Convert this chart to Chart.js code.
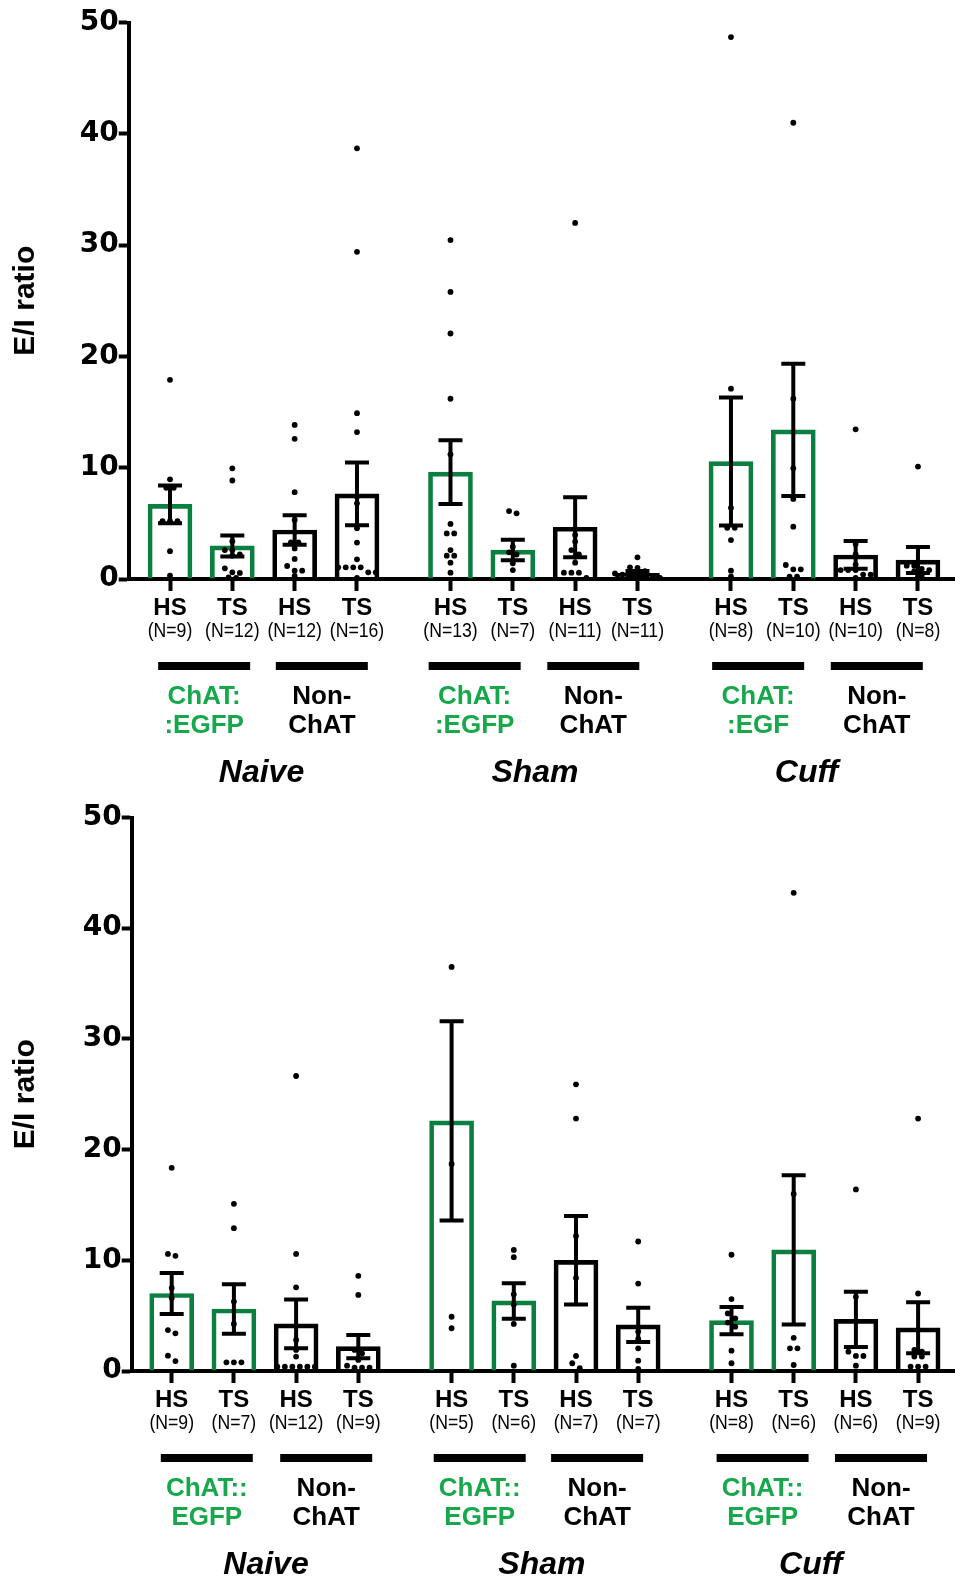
<!DOCTYPE html>
<html>
<head>
<meta charset="utf-8">
<script src="https://cdn.jsdelivr.net/npm/chart.js@4.4.1/dist/chart.umd.min.js"></script>
<style>
html, body { margin: 0; padding: 0; background: #fff; }
#wrap { position: relative; width: 955px; height: 1577px; overflow: hidden; }
canvas { position: absolute; left: 0; }
</style>
</head>
<body>
<div id="wrap">
  <canvas id="topChart" width="962" height="790" style="top:0px"></canvas>
  <canvas id="bottomChart" width="962" height="787" style="top:790px"></canvas>
</div>
<script>
// ---- data ----
var groups = ['Naive', 'Sham', 'Cuff'];
var subTypes = ['HS', 'TS'];
var yTicks = [0, 10, 20, 30, 40, 50];

// top panel
var topN = [9, 12, 12, 16, 13, 7, 11, 11, 8, 10, 10, 8];
var topMeans = [6.7, 2.97, 4.4, 7.65, 9.6, 2.6, 4.65, 0.5, 10.55, 13.4, 2.16, 1.7];
var topSem = [1.7, 0.95, 1.33, 2.83, 2.87, 0.92, 2.7, 0.22, 5.75, 5.95, 1.25, 1.17];
var topPoints = [
  [17.9, 8.96, 8.2, 8.2, 5.2, 5.2, 5.2, 2.5, 0.3],
  [9.95, 8.85, 3.4, 2.6, 2.6, 2.2, 2.1, 0.96, 0.6, 0.55, 0.15, 0.1],
  [13.85, 12.6, 7.8, 5.3, 3.3, 3.3, 2.75, 1.8, 1.17, 0.75, 0.75, 0.27],
  [38.7, 29.4, 14.9, 13.2, 7.4, 6.8, 4.56, 3.27, 1.77, 1.05, 1.05, 1.05, 1.05, 0.6, 0.6, 0.1],
  [30.46, 25.8, 22.06, 16.2, 11.2, 4.95, 4.1, 4.1, 2.6, 2.1, 2.1, 1.47, 0.57],
  [6.1, 5.9, 2.9, 2.4, 2.2, 1.41, 0.8],
  [32.0, 3.96, 3.36, 2.6, 2.2, 2.0, 1.47, 0.57, 0.57, 0.57, 0.1],
  [1.95, 1.05, 1.0, 0.7, 0.5, 0.4, 0.3, 0.3, 0.2, 0.1, 0.1],
  [48.7, 17.1, 6.4, 4.6, 4.6, 3.5, 0.75, 0.2],
  [41.0, 16.2, 9.95, 7.2, 4.7, 1.26, 0.87, 0.87, 0.2, 0.2],
  [13.45, 3.15, 2.2, 1.3, 0.8, 0.8, 0.8, 0.4, 0.4, 0.1],
  [10.1, 1.2, 1.2, 0.9, 0.8, 0.7, 0.3, 0.2]
];
var topCellLabels = [['ChAT:', ':EGFP'], ['Non-', 'ChAT'], ['ChAT:', ':EGFP'], ['Non-', 'ChAT'], ['ChAT:', ':EGF'], ['Non-', 'ChAT']];

// bottom panel
var bottomN = [9, 7, 12, 9, 5, 6, 7, 7, 8, 6, 6, 9];
var bottomMeans = [7.0, 5.6, 4.25, 2.2, 22.6, 6.33, 10.0, 4.16, 4.55, 10.94, 4.67, 3.9];
var bottomSem = [1.85, 2.23, 2.2, 1.05, 9.0, 1.6, 4.0, 1.55, 1.23, 6.75, 2.5, 2.3];
var bottomPoints = [
  [18.35, 10.58, 10.4, 7.5, 6.6, 3.7, 3.4, 1.38, 0.9],
  [15.1, 12.9, 6.27, 4.25, 0.78, 0.78, 0.78],
  [26.65, 10.58, 7.56, 2.8, 1.9, 1.3, 0.39, 0.39, 0.39, 0.39, 0.39, 0.39],
  [8.6, 6.87, 1.9, 1.6, 1.0, 0.48, 0.3, 0.3, 0.3],
  [36.5, 18.7, 4.9, 3.86],
  [10.94, 10.28, 6.93, 6.0, 4.25, 0.48],
  [25.9, 22.8, 12.2, 8.4, 1.36, 0.7, 0.25],
  [11.7, 7.9, 3.56, 2.9, 2.05, 0.93, 0.2],
  [10.5, 6.5, 5.2, 4.76, 4.37, 4.0, 1.84, 0.7],
  [43.2, 16.0, 3.0, 2.05, 2.05, 0.54],
  [16.4, 6.7, 1.75, 1.36, 1.36, 0.48],
  [22.8, 7.0, 1.9, 1.75, 1.3, 1.3, 0.4, 0.4, 0.4]
];
var bottomCellLabels = [['ChAT::', 'EGFP'], ['Non-', 'ChAT'], ['ChAT::', 'EGFP'], ['Non-', 'ChAT'], ['ChAT::', 'EGFP'], ['Non-', 'ChAT']];

// ---- styling ----
var BAR_GREEN = '#0b7f40';
var TEXT_GREEN = '#17a84c';

// 4 bars per group, half a slot between groups
var xPos = topMeans.map(function(m, i) { return i + 0.5 * Math.floor(i / 4); });

function barColor(i) { return (i % 4) < 2 ? BAR_GREEN : '#000'; }

// GraphPad-like spreading of dots that sit on the same level
function swarm(values, center, pxX, pxY) {
  var sorted = values.slice().sort(function(a, b) { return b - a; });
  var out = [];
  var i = 0;
  while (i < sorted.length) {
    var row = [sorted[i]];
    var j = i + 1;
    while (j < sorted.length && (sorted[i] - sorted[j]) * pxY < 5.5) { row.push(sorted[j]); j++; }
    row.forEach(function(v, k) {
      out.push({ x: center + (k - (row.length - 1) / 2) * 7.5 / pxX, y: v });
    });
    i = j;
  }
  return out;
}

function condensedText(ctx, text, x, y, sx) {
  ctx.save();
  ctx.translate(x, y);
  ctx.scale(sx, 1);
  ctx.fillText(text, 0, 0);
  ctx.restore();
}

function makeChart(panel) {
  var pxY = (panel.plotBottom - panel.plotTop) / 50;

  var dots = [];
  panel.points.forEach(function(vals, i) {
    dots = dots.concat(swarm(vals, xPos[i], panel.unitPx, pxY));
  });

  var semPlugin = {
    id: 'semBars',
    afterDatasetsDraw: function(chart) {
      var xs = chart.scales.x, ys = chart.scales.y, ctx = chart.ctx;
      ctx.save();
      ctx.strokeStyle = '#000';
      ctx.lineWidth = 4;
      panel.means.forEach(function(m, i) {
        var x = xs.getPixelForValue(xPos[i]);
        var top = ys.getPixelForValue(m + panel.sem[i]);
        var bot = ys.getPixelForValue(Math.max(0, m - panel.sem[i]));
        ctx.beginPath();
        ctx.moveTo(x, top); ctx.lineTo(x, bot);
        ctx.moveTo(x - 12, top); ctx.lineTo(x + 12, top);
        ctx.moveTo(x - 12, bot); ctx.lineTo(x + 12, bot);
        ctx.stroke();
      });
      ctx.restore();
    }
  };

  var labelPlugin = {
    id: 'groupLabels',
    afterDraw: function(chart) {
      var xs = chart.scales.x, ctx = chart.ctx;
      var base = chart.chartArea.bottom;
      ctx.save();
      ctx.textAlign = 'center';
      ctx.textBaseline = 'middle';
      ctx.fillStyle = '#000';
      panel.n.forEach(function(n, i) {
        var x = xs.getPixelForValue(xPos[i]);
        ctx.font = 'bold 24px "Liberation Sans", Arial, sans-serif';
        ctx.fillText(subTypes[i % 2], x, base + 29);
        ctx.font = '21px "Liberation Sans", Arial, sans-serif';
        condensedText(ctx, '(N=' + n + ')', x, base + 52, 0.84);
      });
      panel.cellLabels.forEach(function(lines, p) {
        var mid = (xs.getPixelForValue(xPos[2 * p]) + xs.getPixelForValue(xPos[2 * p + 1])) / 2 + panel.pairNudge[p];
        ctx.fillStyle = '#000';
        ctx.fillRect(mid - 46, base + 83, 92, 8);
        ctx.fillStyle = p % 2 === 0 ? TEXT_GREEN : '#000';
        ctx.font = 'bold 26px "Liberation Sans", Arial, sans-serif';
        ctx.fillText(lines[0], mid, base + 118);
        ctx.fillText(lines[1], mid, base + 147);
      });
      ctx.fillStyle = '#000';
      ctx.font = 'italic bold 32px "Liberation Sans", Arial, sans-serif';
      groups.forEach(function(g, k) {
        var mid = (xs.getPixelForValue(xPos[4 * k]) + xs.getPixelForValue(xPos[4 * k + 3])) / 2 + panel.groupNudge[k];
        ctx.fillText(g, mid, base + 194);
      });
      ctx.restore();
    }
  };

  var chart = new Chart(document.getElementById(panel.canvasId).getContext('2d'), {
    type: 'bar',
    data: {
      datasets: [{
        type: 'scatter',
        data: dots,
        pointRadius: 2.9,
        pointBackgroundColor: '#000',
        pointBorderWidth: 0,
        clip: false,
        order: 1
      }, {
        type: 'bar',
        data: panel.means.map(function(m, i) { return { x: xPos[i], y: m }; }),
        backgroundColor: 'rgba(0,0,0,0)',
        borderColor: panel.means.map(function(m, i) { return barColor(i); }),
        borderWidth: 4,
        borderSkipped: 'start',
        barThickness: 44,
        order: 2
      }]
    },
    options: {
      responsive: false,
      devicePixelRatio: 1,
      animation: false,
      layout: { padding: { top: panel.plotTop, left: 0, right: 0, bottom: 0 } },
      plugins: { legend: { display: false }, tooltip: { enabled: false } },
      scales: {
        x: {
          type: 'linear',
          offset: false,
          min: -0.65,
          max: 12.6,
          afterBuildTicks: function(s) { s.ticks = xPos.map(function(v) { return { value: v }; }); },
          afterFit: function(s) { s.height = panel.canvasH - panel.plotBottom; },
          ticks: { display: false },
          grid: { drawOnChartArea: false, offset: false, drawTicks: true, tickLength: 12, tickWidth: 4, tickColor: '#000' },
          border: { display: true, color: '#000', width: 4 }
        },
        y: {
          min: 0,
          max: 50,
          afterBuildTicks: function(s) { s.ticks = yTicks.map(function(v) { return { value: v }; }); },
          afterFit: function(s) { s.width = panel.plotLeft; },
          ticks: { color: '#000', padding: 0, font: { family: '"DejaVu Sans", sans-serif', weight: 'bold', size: 28 } },
          grid: { drawOnChartArea: false, drawTicks: true, tickLength: 10, tickWidth: 4, tickColor: '#000' },
          border: { display: true, color: '#000', width: 4 },
          title: {
            display: true,
            text: 'E/I ratio',
            color: '#000',
            font: { family: '"Liberation Sans", Arial, sans-serif', weight: 'bold', size: 30 },
            padding: { top: 8, bottom: 0 }
          }
        }
      }
    },
    plugins: [semPlugin, labelPlugin]
  });

  // fit the x range to the real plot width: first bar at firstCenter, one slot = unitPx
  var area = chart.chartArea;
  var xmin = -(panel.firstCenter - area.left) / panel.unitPx;
  chart.options.scales.x.min = xmin;
  chart.options.scales.x.max = xmin + (area.right - area.left) / panel.unitPx;
  chart.update();
  return chart;
}

makeChart({
  canvasId: 'topChart', canvasH: 790,
  plotLeft: 128.7, plotTop: 22.6, plotBottom: 579, firstCenter: 170, unitPx: 62.33,
  pairNudge: [3, -4, -7, -13, -4, -10], groupNudge: [-2, -9, -18],
  n: topN, means: topMeans, sem: topSem, points: topPoints, cellLabels: topCellLabels
});
makeChart({
  canvasId: 'bottomChart', canvasH: 787,
  plotLeft: 131.7, plotTop: 27.5, plotBottom: 581, firstCenter: 171.7, unitPx: 62.2,
  pairNudge: [4, -1, -3, -10, 0, -6], groupNudge: [1, -3, -14],
  n: bottomN, means: bottomMeans, sem: bottomSem, points: bottomPoints, cellLabels: bottomCellLabels
});
</script>
</body>
</html>
